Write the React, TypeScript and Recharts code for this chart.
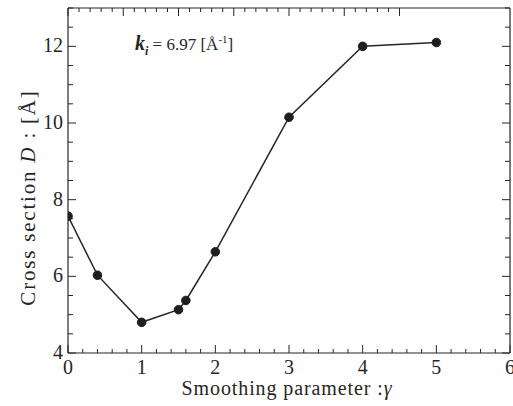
import { LineChart, Line, XAxis, YAxis, Customized } from 'recharts';

// smoothing parameter (gamma) and measured cross section D [Å]
const gamma = [0, 0.4, 1, 1.5, 1.6, 2, 3, 4, 5];
const crossSection = [7.57, 6.03, 4.8, 5.13, 5.37, 6.64, 10.15, 12.0, 12.1];

// tick marks: every 0.2 on x (labels on integers), every 0.5 on y (labels on even values)
const xTicks = Array.from({ length: 31 }, (_, i) => Math.round(i * 2) / 10);
const yTicks = Array.from({ length: 19 }, (_, i) => 4 + i * 0.5);

const data = gamma.map((g, i) => ({ gamma: g, d: crossSection[i] }));

const INK = '#262626';
const FONT = 'Liberation Serif, serif';
const serif = { fontFamily: FONT };

const isXMajor = (v: number) => Math.abs(v - Math.round(v)) < 1e-6;
const isYMajor = (v: number) => Math.abs(v - Math.round(v)) < 1e-6 && Math.round(v) % 2 === 0;

// tick marks are drawn as thin rects pointing into the plot
function BottomTick({ x, y, payload }: any) {
  const major = isXMajor(payload.value);
  const len = major ? 8 : 4;
  return (
    <g>
      <rect x={Number(x) - 0.5} y={Number(y) - len} width={1} height={len} fill={INK} />
      {major && (
        <text x={x} y={Number(y) + 21} textAnchor="middle" fontSize={20} fill={INK} style={serif}>
          {Math.round(payload.value)}
        </text>
      )}
    </g>
  );
}

function TopTick({ x, y, payload }: any) {
  const len = isXMajor(payload.value) ? 8 : 4;
  return <rect x={Number(x) - 0.5} y={Number(y)} width={1} height={len} fill={INK} />;
}

function LeftTick({ x, y, payload }: any) {
  const major = isYMajor(payload.value);
  const len = major ? 8 : 5;
  return (
    <g>
      <rect x={Number(x)} y={Number(y) - 0.5} width={len} height={1} fill={INK} />
      {major && (
        <text x={Number(x) - 5} y={Number(y) + 6} textAnchor="end" fontSize={20} fill={INK} style={serif}>
          {Math.round(payload.value)}
        </text>
      )}
    </g>
  );
}

function RightTick({ x, y, payload }: any) {
  const len = isYMajor(payload.value) ? 8 : 5;
  return <rect x={Number(x) - len} y={Number(y) - 0.5} width={len} height={1} fill={INK} />;
}

function XTitle({ viewBox }: any) {
  const cx = viewBox.x + viewBox.width / 2 - 2;
  return (
    <text x={cx} y={viewBox.y + 42} textAnchor="middle" fontSize={20} fill={INK} style={serif} letterSpacing={0.9}>
      Smoothing parameter :<tspan fontStyle="italic">γ</tspan>
    </text>
  );
}

function YTitle({ viewBox }: any) {
  const cx = viewBox.x + 35;
  const cy = viewBox.y + viewBox.height / 2 + 17;
  return (
    <text
      x={cx}
      y={cy}
      textAnchor="middle"
      fontSize={21}
      fill={INK}
      style={serif}
      letterSpacing={1.8}
      transform={`rotate(-90 ${cx} ${cy})`}
    >
      Cross section <tspan fontStyle="italic">D</tspan> : [Å]
    </text>
  );
}

function Annotation() {
  return (
    <text x={135} y={50} fontSize={17} fill={INK} style={serif}>
      <tspan fontStyle="italic" fontWeight="bold" fontSize={20}>k</tspan>
      <tspan fontStyle="italic" fontWeight="bold" fontSize={12} dy={5}>i</tspan>
      <tspan dy={-5}> = 6.97 [Å</tspan>
      <tspan fontSize={11} dy={-7}>-1</tspan>
      <tspan dy={7}>]</tspan>
    </text>
  );
}

export default function App() {
  return (
    <div style={{ position: 'absolute', left: 0, top: 0, background: '#fff' }}>
      <LineChart
        width={513}
        height={406}
        data={data}
        margin={{ top: 7, right: 2, bottom: 0, left: 0 }}
        style={serif}
      >
        <XAxis
          xAxisId="b"
          dataKey="gamma"
          type="number"
          domain={[0, 6]}
          allowDataOverflow
          ticks={xTicks}
          interval={0}
          tickLine={false}
          tickSize={0}
          tickMargin={0}
          height={53}
          axisLine={{ stroke: INK, strokeWidth: 1.2 }}
          tick={(p: any) => <BottomTick {...p} />}
          label={<XTitle />}
        />
        <XAxis
          xAxisId="t"
          orientation="top"
          type="number"
          domain={[0, 6]}
          allowDataOverflow
          ticks={xTicks}
          interval={0}
          tickLine={false}
          tickSize={0}
          tickMargin={0}
          height={1}
          axisLine={{ stroke: INK, strokeWidth: 1.2 }}
          tick={(p: any) => <TopTick {...p} />}
        />
        <YAxis
          yAxisId="l"
          type="number"
          domain={[4, 13]}
          allowDataOverflow
          ticks={yTicks}
          interval={0}
          tickLine={false}
          tickSize={0}
          tickMargin={0}
          width={68}
          axisLine={{ stroke: INK, strokeWidth: 1.2 }}
          tick={(p: any) => <LeftTick {...p} />}
          label={<YTitle />}
        />
        <YAxis
          yAxisId="r"
          orientation="right"
          type="number"
          domain={[4, 13]}
          allowDataOverflow
          ticks={yTicks}
          interval={0}
          tickLine={false}
          tickSize={0}
          tickMargin={0}
          width={1}
          axisLine={{ stroke: INK, strokeWidth: 1.2 }}
          tick={(p: any) => <RightTick {...p} />}
        />
        <Line
          xAxisId="b"
          yAxisId="l"
          dataKey="d"
          type="linear"
          stroke={INK}
          strokeWidth={1.5}
          dot={{ r: 4.3, fill: '#1e1e1e', stroke: '#1e1e1e', strokeWidth: 1 }}
          isAnimationActive={false}
        />
        <Customized component={Annotation} />
      </LineChart>
    </div>
  );
}
